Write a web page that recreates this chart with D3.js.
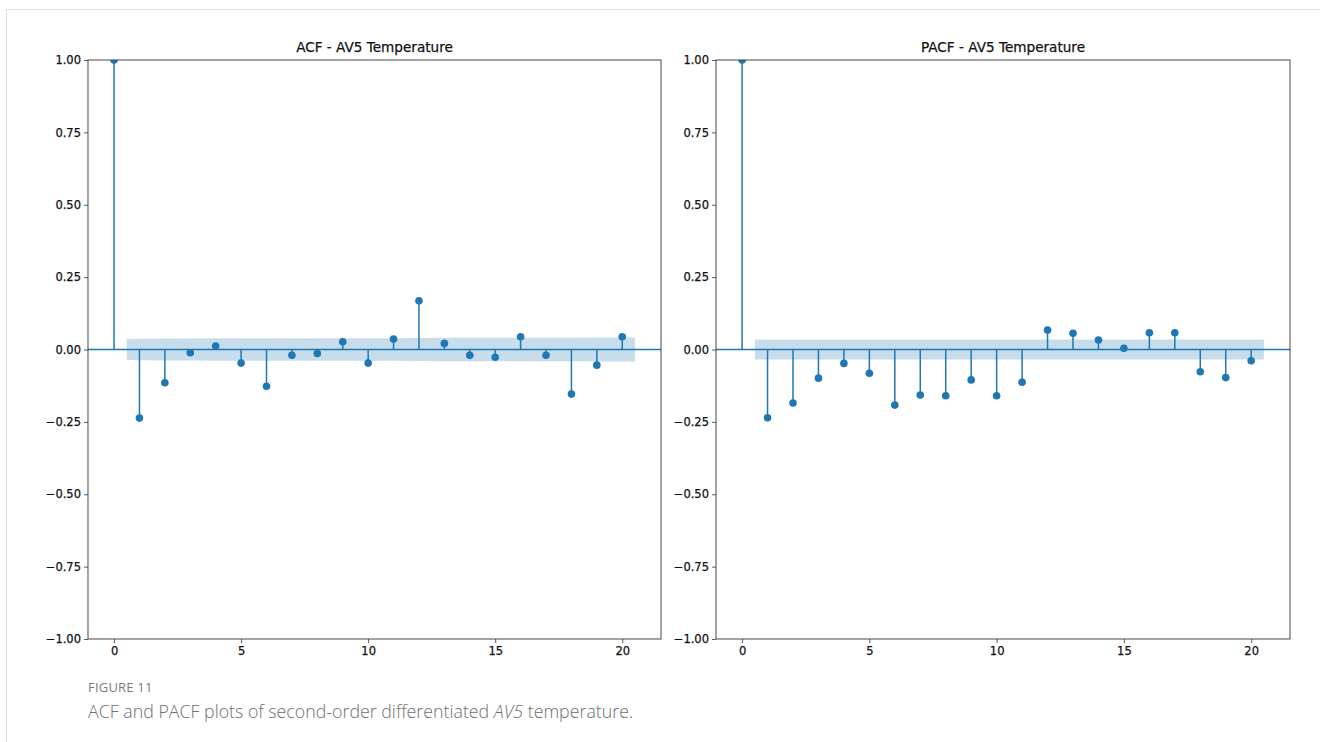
<!DOCTYPE html>
<html>
<head>
<meta charset="utf-8">
<script src="https://cdn.jsdelivr.net/npm/d3@7"></script>
<style>
	html, body { margin: 0; padding: 0; background: #fff; }
	#chart { position: relative; width: 1320px; height: 742px; overflow: hidden; }
	#svg { position: absolute; left: 0; top: 0; }
	.card { position: absolute; left: 6px; top: 9px; width: 1400px; height: 800px; border-top: 1px solid #dedede; border-left: 1px solid #dedede; }
	.caption { position: absolute; left: 88px; top: 678px; font-family: "Open Sans", sans-serif; color: #6e6e6e; }
	.caption .fig { font-size: 13px; letter-spacing: 0.2px; color: #7a7a7a; }
	.caption .txt { font-size: 17.8px; margin-top: 3px; font-weight: 300; }
</style>
</head>
<body>
<div id="chart">
	<div class="card"></div>
	<svg id="svg" width="1320" height="742"></svg>
	<div class="caption">
		<div class="fig">FIGURE 11</div>
		<div class="txt">ACF and PACF plots of second-order differentiated <i>AV5</i> temperature.</div>
	</div>
</div>
<script>
// lags 0..20
const lags = [0,1,2,3,4,5,6,7,8,9,10,11,12,13,14,15,16,17,18,19,20];

// values
const acfValues = [1.0, -0.237, -0.115, -0.011, 0.012, -0.047, -0.127, -0.020, -0.014, 0.027, -0.047,
	0.036, 0.168, 0.021, -0.020, -0.027, 0.044, -0.020, -0.154, -0.054, 0.044];
const pacfValues = [1.0, -0.236, -0.185, -0.099, -0.048, -0.082, -0.192, -0.157, -0.160, -0.105, -0.160,
	-0.113, 0.067, 0.056, 0.033, 0.004, 0.058, 0.058, -0.077, -0.097, -0.039];

// confidence band half widths for lags 1..20
const acfConf = [0.036, 0.038, 0.0384, 0.0385, 0.0386, 0.0387, 0.0389, 0.0389, 0.039, 0.039,
	0.0392, 0.0393, 0.0402, 0.0403, 0.0403, 0.0404, 0.0405, 0.0405, 0.0412, 0.0413];
const pacfConf = [0.0345, 0.0345, 0.0345, 0.0345, 0.0345, 0.0345, 0.0345, 0.0345, 0.0345, 0.0345,
	0.0345, 0.0345, 0.0345, 0.0345, 0.0345, 0.0345, 0.0345, 0.0345, 0.0345, 0.0345];

const yTicks = [-1, -0.75, -0.5, -0.25, 0, 0.25, 0.5, 0.75, 1];
const xTicks = [0, 5, 10, 15, 20];

const panels = [
	{ title: 'ACF - AV5 Temperature', values: acfValues, conf: acfConf, left: 88, right: 661 },
	{ title: 'PACF - AV5 Temperature', values: pacfValues, conf: pacfConf, left: 716, right: 1290 }
];

const blue = '#1f77b4';
const font = '"DejaVu Sans", sans-serif';
const plotTop = 60, plotBottom = 639;
const svg = d3.select('#svg');

panels.forEach((p, pi) => {
	const x = d3.scaleLinear().domain([-1.025, 21.525]).range([p.left, p.right]);
	const y = d3.scaleLinear().domain([-1, 1]).range([plotBottom, plotTop]);
	const g = svg.append('g');

	const clipId = 'clip' + pi;
	svg.append('clipPath').attr('id', clipId)
		.append('rect').attr('x', p.left).attr('y', plotTop)
		.attr('width', p.right - p.left).attr('height', plotBottom - plotTop);

	const plot = g.append('g').attr('clip-path', `url(#${clipId})`);

	// confidence band
	const band = p.conf.map((c, i) => {
		let lx = lags[i + 1];
		if (i === 0) lx -= 0.5;
		if (i === p.conf.length - 1) lx += 0.5;
		return { x: lx, c };
	});
	plot.append('path')
		.attr('d', d3.area().x(d => x(d.x)).y0(d => y(-d.c)).y1(d => y(d.c))(band))
		.attr('fill', blue).attr('fill-opacity', 0.25);

	// zero line
	plot.append('line')
		.attr('x1', p.left).attr('x2', p.right)
		.attr('y1', y(0)).attr('y2', y(0))
		.attr('stroke', blue).attr('stroke-width', 1.5);

	// stems
	plot.selectAll('line.stem').data(p.values).enter().append('line')
		.attr('class', 'stem')
		.attr('x1', (d, i) => x(lags[i])).attr('x2', (d, i) => x(lags[i]))
		.attr('y1', y(0)).attr('y2', d => y(d))
		.attr('stroke', blue).attr('stroke-width', 1.5);

	plot.selectAll('circle.pt').data(p.values).enter().append('circle')
		.attr('class', 'pt')
		.attr('cx', (d, i) => x(lags[i])).attr('cy', d => y(d))
		.attr('r', 3.8).attr('fill', blue);

	// axes
	const yAxis = d3.axisLeft(y).tickValues(yTicks).tickFormat(d3.format('.2f')).tickSize(4).tickPadding(3);
	const xAxis = d3.axisBottom(x).tickValues(xTicks).tickFormat(d3.format('d')).tickSize(4).tickPadding(4);

	g.append('g').attr('transform', `translate(${p.left},0)`).call(yAxis);
	g.append('g').attr('transform', `translate(0,${plotBottom})`).call(xAxis);
	g.selectAll('.domain').remove();
	g.selectAll('.tick line').attr('stroke', '#333').attr('stroke-width', 0.8);
	g.selectAll('.tick text').attr('font-family', font).attr('font-size', 11.5).attr('fill', '#111')
		.attr('stroke', '#111').attr('stroke-width', 0.25);

	// frame
	g.append('rect')
		.attr('x', p.left).attr('y', plotTop)
		.attr('width', p.right - p.left).attr('height', plotBottom - plotTop)
		.attr('fill', 'none').attr('stroke', '#333').attr('stroke-width', 0.9);

	g.append('text')
		.attr('x', (p.left + p.right) / 2).attr('y', 52)
		.attr('text-anchor', 'middle')
		.attr('font-family', font).attr('font-size', 13.6).attr('fill', '#111')
		.attr('stroke', '#111').attr('stroke-width', 0.25)
		.text(p.title);
});
</script>
</body>
</html>
